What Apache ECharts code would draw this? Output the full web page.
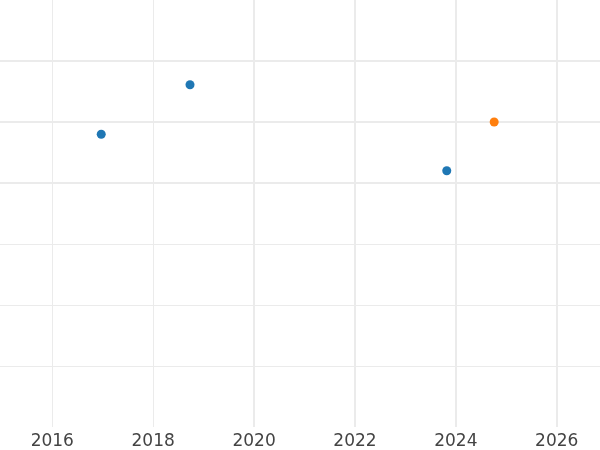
<!DOCTYPE html>
<html>
<head>
<meta charset="utf-8">
<script src="https://cdn.jsdelivr.net/npm/echarts@6/dist/echarts.min.js"></script>
<style>html,body{margin:0;padding:0;background:#fff}#c{width:600px;height:450px}</style>
</head>
<body>
<div id="c"></div>
<script>
// Data
const blueX = [2016.97, 2018.73, 2023.82];
const blueY = [4.80, 5.61, 4.20];
const orangeX = [2024.76];
const orangeY = [5.0];
const xTicks = [2016, 2018, 2020, 2022, 2024, 2026];
const xMin = 2014.963, xMax = 2026.858;

const zip = (xs, ys) => xs.map((x, i) => [x, ys[i]]);
const chart = echarts.init(document.getElementById('c'), null, {renderer: 'canvas'});
const thin = {show: true, showMinLine: false, showMaxLine: false, lineStyle: {color: '#ebebeb', width: 1}};
const thinX = {show: true, showMinLine: true, showMaxLine: false, lineStyle: {color: '#ebebeb', width: 1}};
const thick = {show: true, showMinLine: true, showMaxLine: false, lineStyle: {color: '#ebebeb', width: 2}};
const noAxis = {axisLine: {show: false}, axisTick: {show: false}, axisLabel: {show: false}, splitLine: {show: false}};
// px per year from the reference scale: plot spans xMin..xMax over 600 px
const pxPerYear = 600 / (xMax - xMin);
chart.setOption({
  animation: false,
  backgroundColor: '#ffffff',
  grid: [
    {left: 0, right: 0, top: 0, bottom: 23},
    {left: (xTicks[0] - xMin) * pxPerYear, right: 0, top: 0, bottom: 23},
    {left: 0, right: 0, top: 0, height: 183},
    {left: (2020 - xMin) * pxPerYear, right: 0, top: 0, bottom: 23}
  ],
  xAxis: [
    Object.assign({gridIndex: 0, type: 'value', min: xMin, max: xMax}, noAxis),
    {gridIndex: 1, type: 'value', min: xTicks[0], max: xMax, interval: 2,
     axisLine: {show: false}, axisTick: {show: false}, splitLine: thinX,
     axisLabel: {show: true, color: '#444444', fontSize: 17, fontFamily: 'DejaVu Sans', margin: 6,
       showMinLabel: true, showMaxLabel: false,
       formatter: v => xTicks.includes(v) ? String(v) : ''}},
    Object.assign({gridIndex: 2, type: 'value', min: xMin, max: xMax}, noAxis),
    {gridIndex: 3, type: 'value', min: 2020, max: xMax, interval: 2,
     axisLine: {show: false}, axisTick: {show: false}, axisLabel: {show: false}, splitLine: thick}
  ],
  yAxis: [
    {gridIndex: 0, type: 'value', min: 0, max: 7, interval: 1,
     axisLine: {show: false}, axisTick: {show: false}, axisLabel: {show: false}, splitLine: thin},
    Object.assign({gridIndex: 1, type: 'value', min: 0, max: 7}, noAxis),
    {gridIndex: 2, type: 'value', min: 4, max: 7, interval: 1,
     axisLine: {show: false}, axisTick: {show: false}, axisLabel: {show: false}, splitLine: thick},
    Object.assign({gridIndex: 3, type: 'value', min: 0, max: 7}, noAxis)
  ],
  series: [
    {type: 'scatter', xAxisIndex: 0, yAxisIndex: 0, data: zip(blueX, blueY),
     symbolSize: 9, itemStyle: {color: '#1f77b4', opacity: 1}, z: 10},
    {type: 'scatter', xAxisIndex: 0, yAxisIndex: 0, data: zip(orangeX, orangeY),
     symbolSize: 9, itemStyle: {color: '#ff7f0e', opacity: 1}, z: 10}
  ]
});
</script>
</body>
</html>
